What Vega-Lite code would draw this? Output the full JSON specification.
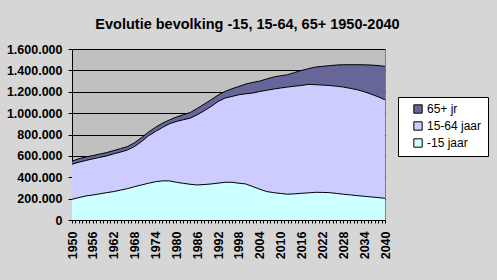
{
  "$schema": "https://vega.github.io/schema/vega-lite/v6.json",
  "autosize": {"type": "none"},
  "padding": {"left": 72, "top": 49, "right": 112, "bottom": 60},
  "width": 313,
  "height": 171,
  "background": "#d6d6d6",
  "title": {
    "text": "Evolutie bevolking -15, 15-64, 65+ 1950-2040",
    "font": "Liberation Sans",
    "fontSize": 14.5,
    "fontWeight": "bold",
    "color": "black",
    "anchor": "middle",
    "frame": "bounds",
    "offset": 11
  },
  "config": {
    "view": {"fill": "#c0c0c0", "stroke": "#808080", "strokeWidth": 1},
    "font": "Liberation Sans"
  },
  "data": {
    "values": [
      {"year":1950,"g":"-15 jaar","v":194000},{"year":1950,"g":"15-64 jaar","v":328000},{"year":1950,"g":"65+ jr","v":28000},
      {"year":1952,"g":"-15 jaar","v":210000},{"year":1952,"g":"15-64 jaar","v":331000},{"year":1952,"g":"65+ jr","v":33000},
      {"year":1954,"g":"-15 jaar","v":225000},{"year":1954,"g":"15-64 jaar","v":332000},{"year":1954,"g":"65+ jr","v":33000},
      {"year":1956,"g":"-15 jaar","v":234000},{"year":1956,"g":"15-64 jaar","v":338000},{"year":1956,"g":"65+ jr","v":31000},
      {"year":1958,"g":"-15 jaar","v":245000},{"year":1958,"g":"15-64 jaar","v":341000},{"year":1958,"g":"65+ jr","v":31000},
      {"year":1960,"g":"-15 jaar","v":256000},{"year":1960,"g":"15-64 jaar","v":344000},{"year":1960,"g":"65+ jr","v":31000},
      {"year":1962,"g":"-15 jaar","v":266000},{"year":1962,"g":"15-64 jaar","v":353000},{"year":1962,"g":"65+ jr","v":31000},
      {"year":1964,"g":"-15 jaar","v":280000},{"year":1964,"g":"15-64 jaar","v":356000},{"year":1964,"g":"65+ jr","v":32000},
      {"year":1966,"g":"-15 jaar","v":294000},{"year":1966,"g":"15-64 jaar","v":362000},{"year":1966,"g":"65+ jr","v":32000},
      {"year":1968,"g":"-15 jaar","v":312000},{"year":1968,"g":"15-64 jaar","v":376000},{"year":1968,"g":"65+ jr","v":35000},
      {"year":1970,"g":"-15 jaar","v":328000},{"year":1970,"g":"15-64 jaar","v":406000},{"year":1970,"g":"65+ jr","v":37000},
      {"year":1972,"g":"-15 jaar","v":344000},{"year":1972,"g":"15-64 jaar","v":444000},{"year":1972,"g":"65+ jr","v":35000},
      {"year":1974,"g":"-15 jaar","v":358000},{"year":1974,"g":"15-64 jaar","v":470000},{"year":1974,"g":"65+ jr","v":39000},
      {"year":1976,"g":"-15 jaar","v":366000},{"year":1976,"g":"15-64 jaar","v":500000},{"year":1976,"g":"65+ jr","v":40000},
      {"year":1978,"g":"-15 jaar","v":366000},{"year":1978,"g":"15-64 jaar","v":534000},{"year":1978,"g":"65+ jr","v":36000},
      {"year":1980,"g":"-15 jaar","v":353000},{"year":1980,"g":"15-64 jaar","v":569000},{"year":1980,"g":"65+ jr","v":41000},
      {"year":1982,"g":"-15 jaar","v":343000},{"year":1982,"g":"15-64 jaar","v":595000},{"year":1982,"g":"65+ jr","v":47000},
      {"year":1984,"g":"-15 jaar","v":334000},{"year":1984,"g":"15-64 jaar","v":619000},{"year":1984,"g":"65+ jr","v":53000},
      {"year":1986,"g":"-15 jaar","v":328000},{"year":1986,"g":"15-64 jaar","v":656000},{"year":1986,"g":"65+ jr","v":60000},
      {"year":1988,"g":"-15 jaar","v":332000},{"year":1988,"g":"15-64 jaar","v":690000},{"year":1988,"g":"65+ jr","v":62000},
      {"year":1990,"g":"-15 jaar","v":337000},{"year":1990,"g":"15-64 jaar","v":725000},{"year":1990,"g":"65+ jr","v":63000},
      {"year":1992,"g":"-15 jaar","v":345000},{"year":1992,"g":"15-64 jaar","v":764000},{"year":1992,"g":"65+ jr","v":59000},
      {"year":1994,"g":"-15 jaar","v":353000},{"year":1994,"g":"15-64 jaar","v":788000},{"year":1994,"g":"65+ jr","v":62000},
      {"year":1996,"g":"-15 jaar","v":353000},{"year":1996,"g":"15-64 jaar","v":803000},{"year":1996,"g":"65+ jr","v":72000},
      {"year":1998,"g":"-15 jaar","v":344000},{"year":1998,"g":"15-64 jaar","v":828000},{"year":1998,"g":"65+ jr","v":78000},
      {"year":2000,"g":"-15 jaar","v":337000},{"year":2000,"g":"15-64 jaar","v":844000},{"year":2000,"g":"65+ jr","v":91000},
      {"year":2002,"g":"-15 jaar","v":312000},{"year":2002,"g":"15-64 jaar","v":876000},{"year":2002,"g":"65+ jr","v":100000},
      {"year":2004,"g":"-15 jaar","v":288000},{"year":2004,"g":"15-64 jaar","v":915000},{"year":2004,"g":"65+ jr","v":97000},
      {"year":2006,"g":"-15 jaar","v":266000},{"year":2006,"g":"15-64 jaar","v":948000},{"year":2006,"g":"65+ jr","v":106000},
      {"year":2008,"g":"-15 jaar","v":256000},{"year":2008,"g":"15-64 jaar","v":969000},{"year":2008,"g":"65+ jr","v":113000},
      {"year":2010,"g":"-15 jaar","v":248000},{"year":2010,"g":"15-64 jaar","v":987000},{"year":2010,"g":"65+ jr","v":115000},
      {"year":2012,"g":"-15 jaar","v":241000},{"year":2012,"g":"15-64 jaar","v":1003000},{"year":2012,"g":"65+ jr","v":115000},
      {"year":2014,"g":"-15 jaar","v":245000},{"year":2014,"g":"15-64 jaar","v":1007000},{"year":2014,"g":"65+ jr","v":128000},
      {"year":2016,"g":"-15 jaar","v":250000},{"year":2016,"g":"15-64 jaar","v":1009000},{"year":2016,"g":"65+ jr","v":141000},
      {"year":2018,"g":"-15 jaar","v":254000},{"year":2018,"g":"15-64 jaar","v":1015000},{"year":2018,"g":"65+ jr","v":147000},
      {"year":2020,"g":"-15 jaar","v":259000},{"year":2020,"g":"15-64 jaar","v":1007000},{"year":2020,"g":"65+ jr","v":165000},
      {"year":2022,"g":"-15 jaar","v":258000},{"year":2022,"g":"15-64 jaar","v":1004000},{"year":2022,"g":"65+ jr","v":176000},
      {"year":2024,"g":"-15 jaar","v":256000},{"year":2024,"g":"15-64 jaar","v":1003000},{"year":2024,"g":"65+ jr","v":185000},
      {"year":2026,"g":"-15 jaar","v":249000},{"year":2026,"g":"15-64 jaar","v":1003000},{"year":2026,"g":"65+ jr","v":198000},
      {"year":2028,"g":"-15 jaar","v":241000},{"year":2028,"g":"15-64 jaar","v":1003000},{"year":2028,"g":"65+ jr","v":209000},
      {"year":2030,"g":"-15 jaar","v":235000},{"year":2030,"g":"15-64 jaar","v":997000},{"year":2030,"g":"65+ jr","v":221000},
      {"year":2032,"g":"-15 jaar","v":228000},{"year":2032,"g":"15-64 jaar","v":991000},{"year":2032,"g":"65+ jr","v":234000},
      {"year":2034,"g":"-15 jaar","v":222000},{"year":2034,"g":"15-64 jaar","v":978000},{"year":2034,"g":"65+ jr","v":252000},
      {"year":2036,"g":"-15 jaar","v":216000},{"year":2036,"g":"15-64 jaar","v":962000},{"year":2036,"g":"65+ jr","v":272000},
      {"year":2038,"g":"-15 jaar","v":210000},{"year":2038,"g":"15-64 jaar","v":943000},{"year":2038,"g":"65+ jr","v":292000},
      {"year":2040,"g":"-15 jaar","v":203000},{"year":2040,"g":"15-64 jaar","v":922000},{"year":2040,"g":"65+ jr","v":313000}
    ]
  },
  "transform": [
    {"calculate": "datum.g === '-15 jaar' ? 0 : datum.g === '15-64 jaar' ? 1 : 2", "as": "ord"}
  ],
  "encoding": {
    "x": {
      "field": "year",
      "type": "quantitative",
      "scale": {"domain": [1950, 2040], "nice": false, "zero": false},
      "axis": {
        "title": null,
        "grid": false,
        "tickCount": 90,
        "labelOverlap": false,
        "labelExpr": "(datum.value - 1950) % 6 === 0 ? format(datum.value, 'd') : ''",
        "labelAngle": 270,
        "labelAlign": "right",
        "labelBaseline": "middle",
        "labelFont": "Liberation Sans",
        "labelFontSize": 12.5,
        "labelFontWeight": "bold",
        "labelColor": "black",
        "labelPadding": 8,
        "domainColor": "black",
        "tickColor": "black",
        "tickSize": 3
      }
    },
    "y": {
      "field": "v",
      "type": "quantitative",
      "stack": "zero",
      "scale": {"domain": [0, 1600000], "nice": false},
      "axis": {
        "title": null,
        "values": [0, 200000, 400000, 600000, 800000, 1000000, 1200000, 1400000, 1600000],
        "labelExpr": "replace(format(datum.value, ','), regexp(',', 'g'), '.')",
        "grid": true,
        "gridColor": "black",
        "gridOpacity": 1,
        "labelFont": "Liberation Sans",
        "labelFontSize": 12.5,
        "labelFontWeight": "bold",
        "labelColor": "black",
        "labelPadding": 6,
        "domainColor": "black",
        "tickColor": "black",
        "tickSize": 4
      }
    },
    "order": {"field": "ord", "type": "quantitative"}
  },
  "layer": [
    {
      "mark": {"type": "area", "interpolate": "linear", "opacity": 1},
      "encoding": {
        "color": {
          "field": "g",
          "type": "nominal",
          "scale": {"domain": ["65+ jr", "15-64 jaar", "-15 jaar"], "range": ["#666699", "#ccccff", "#ccffff"]},
          "legend": {
            "title": null,
            "orient": "none",
            "legendX": 326,
            "legendY": 48,
            "fillColor": "white",
            "strokeColor": "black",
            "padding": 6,
            "symbolType": "square",
            "symbolSize": 70,
            "symbolOffset": 8,
            "symbolStrokeColor": "black",
            "symbolStrokeWidth": 1,
            "symbolOpacity": 1,
            "labelFont": "Liberation Sans",
            "labelFontSize": 12,
            "labelColor": "black",
            "labelOffset": 3,
            "rowPadding": 3,
            "labelLimit": 200
          }
        }
      }
    },
    {
      "mark": {"type": "line", "interpolate": "linear", "color": "black", "strokeWidth": 1},
      "encoding": {
        "detail": {"field": "g", "type": "nominal"}
      }
    }
  ]
}
